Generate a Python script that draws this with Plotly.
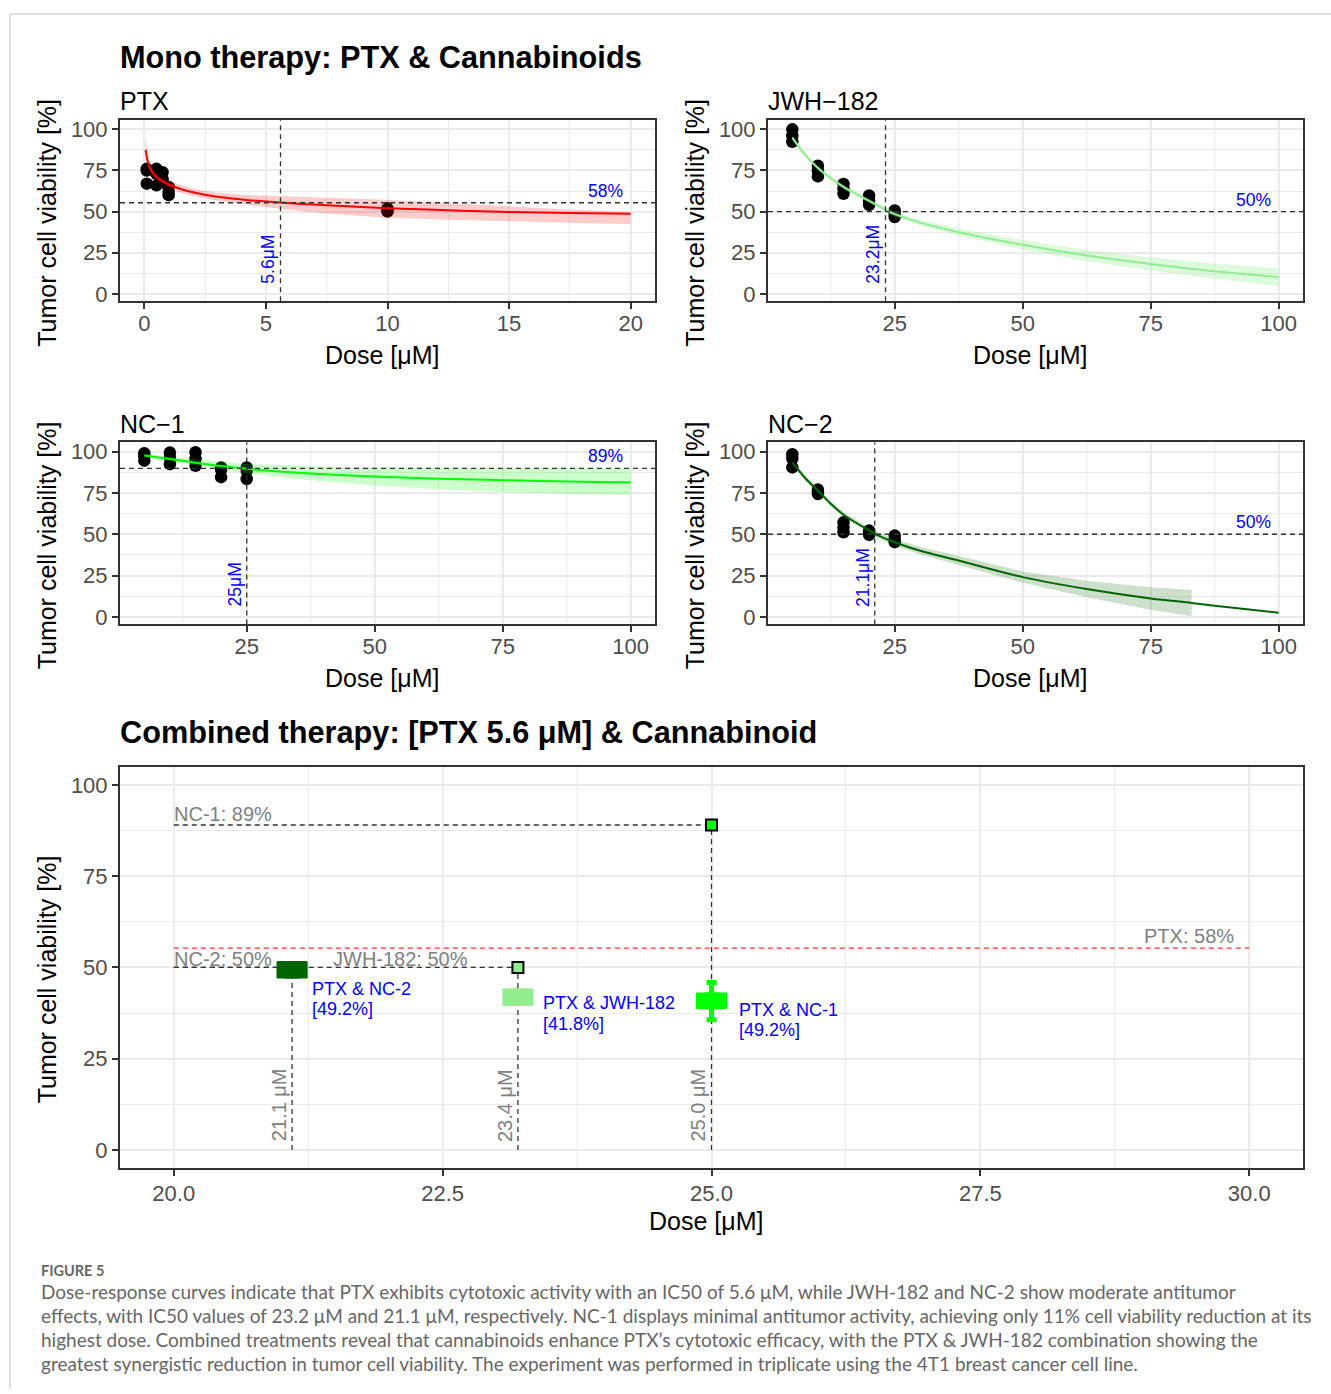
import plotly.graph_objects as go

W, H = 1331, 1394

# ---------------- data: mono therapy ----------------
ptx_dose = [0.1, 0.1, 0.1, 0.5, 0.5, 0.5, 0.75, 0.75, 0.75, 1, 1, 1, 10, 10, 10]
ptx_viab = [76, 75, 67, 76, 73, 66, 74, 70, 68, 65, 62, 60, 52, 50.5, 50]
ptx_fit_x = [0.05, 0.2, 0.4, 0.7, 1.0, 1.5, 2, 3, 4, 5.6, 7.5, 10, 12.5, 15, 17.5, 20]
ptx_fit_y = [87.5, 77.5, 72.5, 68.8, 66.5, 63.8, 61.8, 59.0, 57.4, 55.5, 53.8, 52.1, 50.8, 49.8, 49.2, 48.7]
ptx_fit_up = [95, 81, 75, 71, 68.8, 66, 64, 61.4, 60.2, 59.5, 58.5, 57.2, 55.2, 53.2, 51.3, 49.8]
ptx_fit_lo = [83, 74.5, 70, 66.5, 64.2, 61.5, 59.5, 56.6, 54.8, 51.6, 48.8, 46.2, 45.0, 44.2, 43.2, 42.3]

jwh_dose = [5, 5, 5, 10, 10, 10, 15, 15, 15, 20, 20, 20, 25, 25, 25]
jwh_viab = [100, 96, 92.4, 77.9, 74.8, 71.4, 66.8, 63.8, 60.8, 59.8, 56.7, 54.1, 50.7, 48.7, 46.7]
jwh_fit_x = [5, 7.5, 10, 12.5, 15, 20, 23.2, 25, 30, 37.5, 50, 62.5, 75, 87.5, 100]
jwh_fit_y = [95, 84.5, 76.5, 70.3, 65, 56.5, 51, 48.5, 43.3, 37.5, 29.8, 23.3, 18.2, 13.8, 10.2]
jwh_fit_up = [96.5, 85.8, 77.7, 71.5, 66.2, 57.8, 52.4, 50.0, 45.1, 39.7, 32.6, 26.7, 22.2, 18.4, 15.6]
jwh_fit_lo = [93.5, 83.2, 75.3, 69.1, 63.8, 55.2, 49.6, 47.0, 41.5, 35.3, 27.0, 19.9, 14.2, 9.2, 4.8]

nc1_dose = [5, 5, 5, 10, 10, 10, 15, 15, 15, 20, 20, 20, 25, 25, 25]
nc1_viab = [99, 97, 94.5, 99.4, 96.4, 92.4, 99.6, 95.5, 91.4, 90.4, 89, 84.5, 90.4, 88.4, 83.4]
nc1_fit_x = [5, 10, 15, 20, 25, 37.5, 50, 62.5, 75, 87.5, 100]
nc1_fit_y = [97.6, 95.5, 93.3, 91.3, 89.6, 86.8, 84.9, 83.6, 82.7, 81.9, 81.3]
nc1_fit_up = [98.5, 96.8, 95.2, 93.8, 92.5, 91.0, 90.5, 90.2, 90.0, 89.9, 89.8]
nc1_fit_lo = [96.7, 94.2, 91.4, 88.8, 86.7, 82.6, 79.5, 77.2, 75.6, 74.5, 73.7]

nc2_dose = [5, 5, 5, 10, 10, 10, 15, 15, 15, 20, 20, 20, 25, 25, 25]
nc2_viab = [98.4, 95.8, 90.4, 77, 75.5, 74.3, 57.2, 54.2, 51.2, 52.2, 50.5, 49.6, 49.2, 46.8, 45.2]
nc2_fit_x = [5, 7.5, 10, 12.5, 15, 20, 21.1, 25, 30, 37.5, 50, 62.5, 75, 83, 87.5, 100]
nc2_fit_y = [93.4, 84, 76.3, 68.5, 61.8, 52.3, 50.3, 45.2, 40, 34.1, 24.1, 16.9, 11.2, 8.5, 6.8, 2.6]
nc2_band_x = [5, 7.5, 10, 12.5, 15, 20, 21.1, 25, 30, 37.5, 50, 62.5, 75, 83]
nc2_fit_up = [95.2, 85.6, 77.8, 70.0, 63.3, 54.0, 52.1, 47.2, 42.3, 36.8, 27.5, 21.9, 18.0, 16.3]
nc2_fit_lo = [91.6, 82.4, 74.8, 67.0, 60.3, 50.6, 48.5, 43.2, 37.7, 31.4, 20.7, 11.9, 4.4, 0.5]

mono_names = ["PTX", "JWH−182", "NC−1", "NC−2"]
mono_colors = ["#FF0000", "#90EE90", "#00FF00", "#006400"]
mono_fill = ["rgba(255,0,0,0.2)", "rgba(144,238,144,0.3)", "rgba(0,255,0,0.2)", "rgba(0,100,0,0.2)"]
ic50_dose = [5.6, 23.2, 25.0, 21.1]
ic50_level = [55.4, 50, 89.8, 50]
ic50_level_labels = ["58%", "50%", "89%", "50%"]
ic50_dose_labels = ["5.6μM", "23.2μM", "25μM", "21.1μM"]

# ---------------- data: combined therapy ----------------
combo_names = ["NC-2", "JWH-182", "NC-1"]
combo_dose = [21.1, 23.2, 25.0]
combo_mono_viab = [50, 50, 89]
combo_colors = ["#006400", "#90EE90", "#00FF00"]
combo_q1 = [47.1, 39.6, 38.7]
combo_median = [49.2, 41.8, 40.9]
combo_q3 = [51.6, 44.1, 43.0]
combo_low = [47.1, 39.6, 35.7]
combo_high = [51.6, 44.1, 45.9]
combo_labels = ["PTX & NC-2", "PTX & JWH-182", "PTX & NC-1"]
combo_pct_labels = ["[49.2%]", "[41.8%]", "[49.2%]"]
combo_dose_labels = ["21.1 μM", "23.4 μM", "25.0 μM"]
combo_mono_labels = ["NC-2: 50%", "JWH-182: 50%", "NC-1: 89%"]
ptx_ref_x = [20.0, 30.0]
ptx_ref_level = 55.3
ptx_ref_label = "PTX: 58%"

caption_title = "FIGURE 5"
caption_lines = [
    "Dose-response curves indicate that PTX exhibits cytotoxic activity with an IC50 of 5.6 μM, while JWH-182 and NC-2 show moderate antitumor",
    "effects, with IC50 values of 23.2 μM and 21.1 μM, respectively. NC-1 displays minimal antitumor activity, achieving only 11% cell viability reduction at its",
    "highest dose. Combined treatments reveal that cannabinoids enhance PTX’s cytotoxic efficacy, with the PTX & JWH-182 combination showing the",
    "greatest synergistic reduction in tumor cell viability. The experiment was performed in triplicate using the 4T1 breast cancer cell line.",
]

# ---------------- layout helpers ----------------
FONT = "Liberation Sans, Arial, sans-serif"


def xdom(l, r):
    return [l / W, r / W]


def ydom(t, b):
    return [1 - b / H, 1 - t / H]


def px(x):
    return x / W


def py(y):
    return 1 - y / H


def axis_style(**kw):
    d = dict(showline=True, linecolor="#333333", linewidth=2, mirror=True,
             ticks="outside", ticklen=6, tickwidth=1.5, tickcolor="#333333",
             showgrid=True, gridcolor="#EBEBEB", gridwidth=1.6, zeroline=False,
             tickfont=dict(family=FONT, size=22, color="#4D4D4D"),
             type="linear", fixedrange=True)
    d.update(kw)
    return d


fig = go.Figure()

panels = [
    dict(dose=ptx_dose, viab=ptx_viab, fx=ptx_fit_x, fy=ptx_fit_y, bx=ptx_fit_x, up=ptx_fit_up, lo=ptx_fit_lo),
    dict(dose=jwh_dose, viab=jwh_viab, fx=jwh_fit_x, fy=jwh_fit_y, bx=jwh_fit_x, up=jwh_fit_up, lo=jwh_fit_lo),
    dict(dose=nc1_dose, viab=nc1_viab, fx=nc1_fit_x, fy=nc1_fit_y, bx=nc1_fit_x, up=nc1_fit_up, lo=nc1_fit_lo),
    dict(dose=nc2_dose, viab=nc2_viab, fx=nc2_fit_x, fy=nc2_fit_y, bx=nc2_band_x, up=nc2_fit_up, lo=nc2_fit_lo),
]

for i, p in enumerate(panels):
    xa = "x" if i == 0 else f"x{i + 1}"
    ya = "y" if i == 0 else f"y{i + 1}"
    fig.add_trace(go.Scatter(x=p["dose"], y=p["viab"], mode="markers",
                             marker=dict(color="black", size=12.5), xaxis=xa, yaxis=ya,
                             showlegend=False, hoverinfo="skip"))
    fig.add_trace(go.Scatter(x=p["bx"], y=p["up"], mode="lines", line=dict(width=0),
                             xaxis=xa, yaxis=ya, showlegend=False, hoverinfo="skip"))
    fig.add_trace(go.Scatter(x=p["bx"], y=p["lo"], mode="lines", line=dict(width=0),
                             fill="tonexty", fillcolor=mono_fill[i],
                             xaxis=xa, yaxis=ya, showlegend=False, hoverinfo="skip"))
    fig.add_trace(go.Scatter(x=p["fx"], y=p["fy"], mode="lines", line=dict(color=mono_colors[i], width=2, shape="spline"),
                             xaxis=xa, yaxis=ya, showlegend=False, hoverinfo="skip"))

DASH = "5px,4px"

# combined: reference dashed lines (on x5/y5)
fig.add_trace(go.Scatter(x=ptx_ref_x, y=[ptx_ref_level, ptx_ref_level], mode="lines",
                         line=dict(color="#FF3030", width=1.3, dash=DASH),
                         xaxis="x5", yaxis="y5", showlegend=False, hoverinfo="skip"))
for j in range(3):
    fig.add_trace(go.Scatter(x=[ptx_ref_x[0], combo_dose[j]], y=[combo_mono_viab[j], combo_mono_viab[j]],
                             mode="lines", line=dict(color="#333333", width=1.3, dash=DASH),
                             xaxis="x5", yaxis="y5", showlegend=False, hoverinfo="skip"))
    fig.add_trace(go.Scatter(x=[combo_dose[j], combo_dose[j]], y=[0, combo_mono_viab[j]],
                             mode="lines", line=dict(color="#333333", width=1.3, dash=DASH),
                             xaxis="x5", yaxis="y5", showlegend=False, hoverinfo="skip"))
fig.add_trace(go.Scatter(x=combo_dose, y=combo_mono_viab, mode="markers",
                         marker=dict(symbol="square", size=11, color=combo_colors,
                                     line=dict(color="black", width=2)),
                         xaxis="x5", yaxis="y5", showlegend=False, hoverinfo="skip"))
# boxes on an overlaying axis pair (x6/y6) so they are drawn above the lines and markers
for j in range(3):
    if combo_high[j] > combo_q3[j] or combo_low[j] < combo_q1[j]:
        fig.add_trace(go.Scatter(x=[combo_dose[j]], y=[combo_median[j]], mode="markers",
                                 marker=dict(size=1, opacity=0),
                                 error_y=dict(type="data", symmetric=False,
                                              array=[combo_high[j] - combo_median[j]],
                                              arrayminus=[combo_median[j] - combo_low[j]],
                                              color=combo_colors[j], thickness=5, width=5),
                                 xaxis="x6", yaxis="y6", showlegend=False, hoverinfo="skip"))
    fig.add_trace(go.Box(x=[combo_dose[j]], q1=[combo_q1[j]], median=[combo_median[j]], q3=[combo_q3[j]],
                         lowerfence=[combo_q1[j]], upperfence=[combo_q3[j]],
                         fillcolor=combo_colors[j], line=dict(color=combo_colors[j], width=1),
                         width=0.28, boxpoints=False, xaxis="x6", yaxis="y6",
                         showlegend=False, hoverinfo="skip"))

# ---------------- axes ----------------
mono_y = dict(range=[-4.5, 105.5], dtick=25, tick0=0,
              minor=dict(dtick=12.5, showgrid=True, gridcolor="#EBEBEB", gridwidth=0.8, ticks=""))
XSTAND = -5
layout_axes = dict(
    xaxis=axis_style(domain=xdom(120, 655), anchor="y", range=[-1, 21], dtick=5, tick0=0, ticklabelstandoff=XSTAND,
                     minor=dict(dtick=2.5, showgrid=True, gridcolor="#EBEBEB", gridwidth=0.8, ticks="")),
    yaxis=axis_style(domain=ydom(118, 300), anchor="x", **mono_y),
    xaxis2=axis_style(domain=xdom(768, 1303), anchor="y2", range=[0.25, 104.75], dtick=25, tick0=0,
                      ticklabelstandoff=XSTAND,
                      minor=dict(dtick=12.5, showgrid=True, gridcolor="#EBEBEB", gridwidth=0.8, ticks="")),
    yaxis2=axis_style(domain=ydom(118, 300), anchor="x2", **mono_y),
    xaxis3=axis_style(domain=xdom(120, 655), anchor="y3", range=[0.25, 104.75], dtick=25, tick0=0,
                      ticklabelstandoff=XSTAND,
                      minor=dict(dtick=12.5, showgrid=True, gridcolor="#EBEBEB", gridwidth=0.8, ticks="")),
    yaxis3=axis_style(domain=ydom(442, 625), anchor="x3", **mono_y),
    xaxis4=axis_style(domain=xdom(768, 1303), anchor="y4", range=[0.25, 104.75], dtick=25, tick0=0,
                      ticklabelstandoff=XSTAND,
                      minor=dict(dtick=12.5, showgrid=True, gridcolor="#EBEBEB", gridwidth=0.8, ticks="")),
    yaxis4=axis_style(domain=ydom(442, 625), anchor="x4", **mono_y),
    xaxis5=axis_style(domain=xdom(120, 1303), anchor="y5", range=[19.5, 30.5], dtick=2.5, tick0=20,
                      tickformat=".1f", ticklabelstandoff=-2,
                      minor=dict(dtick=1.25, showgrid=True, gridcolor="#EBEBEB", gridwidth=0.8, ticks="")),
    yaxis5=axis_style(domain=ydom(768, 1172), anchor="x5", range=[-5, 105], dtick=25, tick0=0,
                      minor=dict(dtick=12.5, showgrid=True, gridcolor="#EBEBEB", gridwidth=0.8, ticks="")),
    xaxis6=dict(overlaying="x5", anchor="y6", range=[19.5, 30.5], type="linear", visible=False,
                showgrid=False, zeroline=False, fixedrange=True),
    yaxis6=dict(overlaying="y5", anchor="x6", range=[-5, 105], type="linear", visible=False,
                showgrid=False, zeroline=False, fixedrange=True),
)

ann = []
shapes = []

# titles
ann.append(dict(text="<b>Mono therapy: PTX & Cannabinoids</b>", x=px(118), y=py(55), xref="paper", yref="paper",
                xanchor="left", yanchor="middle", showarrow=False, font=dict(family=FONT, size=30.7, color="black")))
ann.append(dict(text="<b>Combined therapy: [PTX 5.6 μM] & Cannabinoid</b>", x=px(118), y=py(734), xref="paper",
                yref="paper", xanchor="left", yanchor="middle", showarrow=False,
                font=dict(family=FONT, size=30.7, color="black")))

panel_left = [120, 768, 120, 768]
panel_top = [118, 118, 442, 442]
panel_bottom = [300, 300, 625, 625]
panel_right = [655, 1303, 655, 1303]
for i in range(4):
    xa = "x" if i == 0 else f"x{i + 1}"
    ya = "y" if i == 0 else f"y{i + 1}"
    ann.append(dict(text=mono_names[i], x=px(panel_left[i] - 2), y=py(panel_top[i] - 19), xref="paper", yref="paper",
                    xanchor="left", yanchor="middle", showarrow=False, font=dict(family=FONT, size=25, color="black")))
    ann.append(dict(text="Tumor cell viability [%]", x=px(panel_left[i] - 73), y=py((panel_top[i] + panel_bottom[i]) / 2 + 12),
                    xref="paper", yref="paper", textangle=-90, xanchor="center", yanchor="middle", showarrow=False,
                    font=dict(family=FONT, size=25, color="black")))
    ann.append(dict(text="Dose [μM]", x=px((panel_left[i] + panel_right[i]) / 2 - 6), y=py(panel_bottom[i] + 54),
                    xref="paper", yref="paper", xanchor="center", yanchor="middle", showarrow=False,
                    font=dict(family=FONT, size=25, color="black")))
    # IC50 lines
    shapes.append(dict(type="line", xref=xa, yref=f"{ya} domain", x0=ic50_dose[i], x1=ic50_dose[i], y0=0, y1=1,
                       line=dict(color="#333333", width=1.3, dash=DASH), layer="above"))
    shapes.append(dict(type="line", xref=f"{xa} domain", yref=ya, x0=0, x1=1, y0=ic50_level[i], y1=ic50_level[i],
                       line=dict(color="#333333", width=1.3, dash=DASH), layer="above"))
    ann.append(dict(text=ic50_level_labels[i], x=1, xref=f"{xa} domain", y=ic50_level[i], yref=ya,
                    xanchor="right", yanchor="middle", xshift=-30, yshift=12, showarrow=False,
                    font=dict(family=FONT, size=17.5, color="#0000FF")))
    ann.append(dict(text=ic50_dose_labels[i], x=ic50_dose[i], xref=xa, y=5, yref=ya, textangle=-90,
                    xanchor="center", yanchor="bottom", xshift=-12, showarrow=False,
                    font=dict(family=FONT, size=17.5, color="#0000FF")))

# combined axis titles
ann.append(dict(text="Tumor cell viability [%]", x=px(47), y=py(982), xref="paper", yref="paper", textangle=-90,
                xanchor="center", yanchor="middle", showarrow=False, font=dict(family=FONT, size=25, color="black")))
ann.append(dict(text="Dose [μM]", x=px(706), y=py(1225), xref="paper", yref="paper", xanchor="center",
                yanchor="middle", showarrow=False, font=dict(family=FONT, size=25, color="black")))

# combined labels
GRAY = "#808080"
mono_label_x = [20.0, 21.48, 20.0]
mono_label_shift = [8, 8, 11]
for j in range(3):
    ann.append(dict(text=combo_mono_labels[j], x=mono_label_x[j], y=combo_mono_viab[j], xref="x5", yref="y5",
                    xanchor="left", yanchor="middle", yshift=mono_label_shift[j], xshift=-2, showarrow=False,
                    font=dict(family=FONT, size=20, color=GRAY)))
    ann.append(dict(text=combo_dose_labels[j], x=combo_dose[j], y=12.3, xref="x5", yref="y5", textangle=-90,
                    xanchor="center", yanchor="middle", xshift=-13, showarrow=False,
                    font=dict(family=FONT, size=20, color=GRAY)))
label_x = [21.27, 23.41, 25.24]
label_y1 = [44.0, 40.2, 38.3]
label_y2 = [38.6, 34.5, 32.9]
for j in range(3):
    ann.append(dict(text=combo_labels[j], x=label_x[j], y=label_y1[j], xref="x5", yref="y5",
                    xanchor="left", yanchor="middle", showarrow=False,
                    font=dict(family=FONT, size=18, color="#0000FF")))
    ann.append(dict(text=combo_pct_labels[j], x=label_x[j], y=label_y2[j], xref="x5", yref="y5",
                    xanchor="left", yanchor="middle", showarrow=False,
                    font=dict(family=FONT, size=18, color="#0000FF")))
ann.append(dict(text=ptx_ref_label, x=29.0, y=ptx_ref_level, xref="x5", yref="y5", xanchor="left",
                yanchor="middle", yshift=12, showarrow=False, font=dict(family=FONT, size=20, color=GRAY)))

# caption
CAP_FONT = "Lato, Open Sans, sans-serif"
ann.append(dict(text="<b>" + caption_title + "</b>", x=px(39), y=py(1275), xref="paper", yref="paper",
                xanchor="left", yanchor="middle", showarrow=False,
                font=dict(family=CAP_FONT, size=14.5, color="#666666")))
for k, line in enumerate(caption_lines):
    ann.append(dict(text=line, x=px(39), y=py(1296 + 24 * k), xref="paper", yref="paper",
                    xanchor="left", yanchor="middle", showarrow=False,
                    font=dict(family=CAP_FONT, size=19.0, color="#666666")))

# outer frame
shapes.append(dict(type="line", xref="paper", yref="paper", x0=px(10), x1=1, y0=py(11), y1=py(11),
                   line=dict(color="#D4D4D4", width=1.5)))
shapes.append(dict(type="line", xref="paper", yref="paper", x0=px(10), x1=px(10), y0=py(11), y1=0,
                   line=dict(color="#D4D4D4", width=1.5)))

fig.update_layout(
    width=W, height=H, margin=dict(l=0, r=0, t=0, b=0),
    paper_bgcolor="white", plot_bgcolor="white",
    showlegend=False, boxmode="overlay",
    annotations=ann, shapes=shapes,
    **layout_axes,
)

fig.write_html("out.html")
